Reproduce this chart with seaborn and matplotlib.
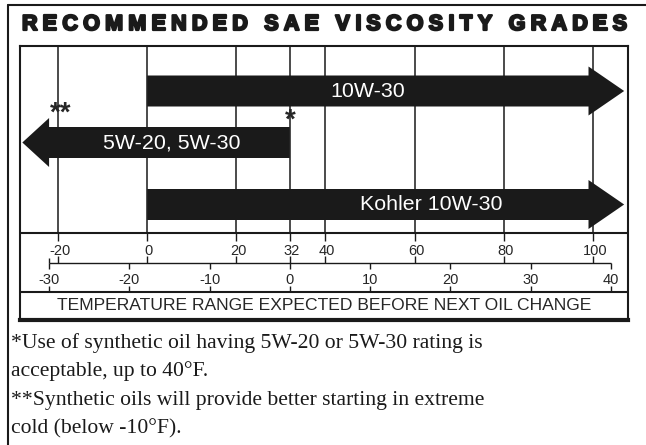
import seaborn as sns
import matplotlib.pyplot as plt
from matplotlib import patheffects
from matplotlib.textpath import text_to_path
from matplotlib.font_manager import FontProperties

# arrows: label, start (°F), tip (°F)
grades = ["10W-30", "5W-20, 5W-30", "Kohler 10W-30"]
start_f = [0, 32, 0]
tip_f = [107, -28, 107]

# asterisk notes placed on the temperature scale
note_marks = ["**", "*"]
note_f = [-19.5, 32]

# temperature scales
grid_f = [-20, 0, 20, 32, 40, 60, 80, 100]
f_labels = ["-20", "0", "20", "32", "40", "60", "80", "100"]
c_ticks = [-30, -20, -10, 0, 10, 20, 30, 40]
c_labels = ["-30", "-20", "-10", "0", "10", "20", "30", "40"]

title = "RECOMMENDED SAE VISCOSITY GRADES"
scale_title = "TEMPERATURE RANGE EXPECTED BEFORE NEXT OIL CHANGE"
footnotes = [
    "*Use of synthetic oil having 5W-20 or 5W-30 rating is",
    "acceptable, up to 40°F.",
    "**Synthetic oils will provide better starting in extreme",
    "cold (below -10°F).",
]

sns.set_theme(style="white")
plt.rcParams['font.family'] = ['Liberation Sans', 'DejaVu Sans']

W, H = 646, 445
fig = plt.figure(figsize=(W / 100, H / 100), dpi=100)

# background axes in pixel coordinates for frame, title and footnotes
bg = fig.add_axes([0, 0, 1, 1])
bg.set_xlim(0, W)
bg.set_ylim(H, 0)
bg.axis('off')
bg.plot([8, 8], [5, H], color='k', lw=1.5)
bg.plot([8, W], [5, 5], color='k', lw=1.5)

# letter-spaced heavy title
fp = FontProperties(family='Liberation Sans', weight='bold', size=15.5)
widths = [text_to_path.get_text_width_height_descent(ch, fp, ismath=False)[0] * 100 / 72
          for ch in title]
x0, x1 = 22, 627
gap = (x1 - x0 - sum(widths)) / (len(title) - 1)
x = x0
for ch, w in zip(title, widths):
    bg.text(x, 24.5, ch, fontproperties=fp, ha='left', va='center', color='k',
            path_effects=[patheffects.withStroke(linewidth=1.6, foreground='k')])
    x += w + gap

for i, line in enumerate(footnotes):
    bg.text(11, 348 + i * 28.4, line, family='Liberation Serif', fontsize=15.6,
            va='baseline', ha='left', color='k')

bg.text(32, 251, "°F", fontsize=8.5, ha='center', va='center')
bg.text(32, 280, "°C", fontsize=8.5, ha='center', va='center')

# main chart axes: x in °F, y in pixel rows
def px_to_f(px):
    return -20 + (px - 58) / 4.458

ax = fig.add_axes([20 / W, 1 - 320 / H, 608 / W, 274 / H])
ax.set_xlim(px_to_f(20), px_to_f(628))
ax.set_ylim(320, 46)
ax.set_xticks([])
ax.set_yticks([])
for side, sp in ax.spines.items():
    sp.set_visible(True)
    sp.set_color('k')
    sp.set_linewidth(3 if side == 'bottom' else 1.5)

ax.vlines(grid_f, 46, 233, color='k', lw=1.1)
ax.axhline(233, color='k', lw=1.5)
ax.axhline(292, color='k', lw=1.5)

row_y = [91, 142.5, 204.5]
head_len = [8, 6, 8]
label_f = [49.4, 5.5, 63.8]
for name, s, t, y, hl, lx in zip(grades, start_f, tip_f, row_y, head_len, label_f):
    ax.arrow(s, y, t - s, 0, width=31, head_width=49, head_length=hl,
             length_includes_head=True, fc='k', ec='none')
    ax.text(lx, y + 0.5, name, color='white', fontsize=15.4, ha='center', va='center')

for m, f, y in zip(note_marks, note_f, [114, 121]):
    ax.text(f, y, m, fontsize=20, fontweight='bold', ha='center', va='center')

# Fahrenheit scale
ax.vlines(grid_f, 233, 241, color='k', lw=1)
ax.vlines(grid_f, 256, 263, color='k', lw=1)
for f, lab in zip(grid_f, f_labels):
    ax.text(f + 0.4, 251, lab, fontsize=10.5, ha='center', va='center')

# Celsius scale
c_as_f = [c * 9 / 5 + 32 for c in c_ticks]
ax.hlines(263, c_as_f[0], c_as_f[-1], color='k', lw=1)
ax.vlines(c_as_f[0], 258, 263, color='k', lw=1)
ax.vlines(c_as_f, 263, 269, color='k', lw=1)
ax.vlines(c_as_f, 286, 292, color='k', lw=1)
for f, lab in zip(c_as_f, c_labels):
    ax.text(f, 280, lab, fontsize=10.5, ha='center', va='center')

ax.text(sum(ax.get_xlim()) / 2, 306, scale_title, fontsize=12.6,
        ha='center', va='center')

fig.savefig('out.png', dpi=100)
